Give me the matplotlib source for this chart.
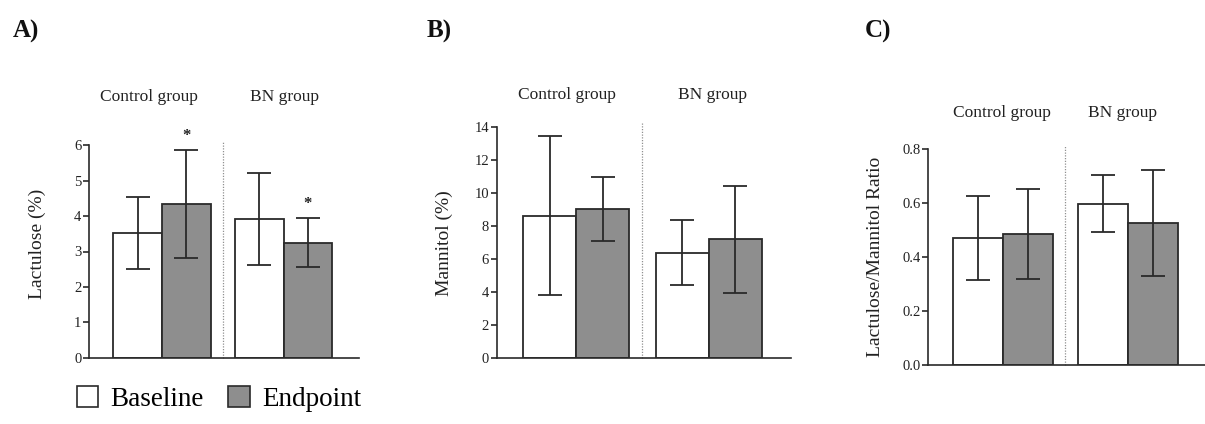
import matplotlib
matplotlib.use("Agg")
import matplotlib.pyplot as plt
from matplotlib.patches import Patch

plt.rcParams['font.family'] = ['Liberation Serif', 'DejaVu Serif']

# ---- data ----
groups = ["Control group", "BN group"]
series = ["Baseline", "Endpoint"]

lactulose_mean = [3.52, 4.35, 3.92, 3.25]
lactulose_sd = [1.01, 1.53, 1.31, 0.70]
lactulose_sig = [False, True, False, True]

mannitol_mean = [8.63, 9.04, 6.38, 7.19]
mannitol_sd = [4.83, 1.96, 1.96, 3.24]
mannitol_sig = [False, False, False, False]

ratio_mean = [0.470, 0.485, 0.598, 0.527]
ratio_sd = [0.156, 0.168, 0.104, 0.197]
ratio_sig = [False, False, False, False]

lac_ticks = [0, 1, 2, 3, 4, 5, 6]
man_ticks = [0, 2, 4, 6, 8, 10, 12, 14]
rat_ticks = [0.0, 0.2, 0.4, 0.6, 0.8]

# ---- layout / style ----
W, H = 1205, 424
fig = plt.figure(figsize=(W / 100, H / 100), dpi=100)

xpos = [1.0, 2.0, 3.5, 4.5]
divider_x = 2.75
colors = ["white", "#8e8e8e"]
dark = "#2a2a2a"

panels = [
    dict(rect=(89, 145.3, 359, 357.7), mean=lactulose_mean, sd=lactulose_sd, sig=lactulose_sig,
         ticks=lac_ticks, fmt="{:g}", ylabel="Lactulose (%)", ylab_xy=(37, 244),
         letter="A)", letter_xy=(13, 31), glab_x=[1.23, 4.02], glab_y=97, sig_off=0.38),
    dict(rect=(496.7, 127.3, 790.7, 357.7), mean=mannitol_mean, sd=mannitol_sd, sig=mannitol_sig,
         ticks=man_ticks, fmt="{:g}", ylabel="Mannitol (%)", ylab_xy=(444, 243),
         letter="B)", letter_xy=(427, 31), glab_x=[1.32, 4.08], glab_y=95, sig_off=0.8),
    dict(rect=(928.3, 149, 1205, 365), mean=ratio_mean, sd=ratio_sd, sig=ratio_sig,
         ticks=rat_ticks, fmt="{:.1f}", ylabel="Lactulose/Mannitol Ratio", ylab_xy=(876, 257),
         letter="C)", letter_xy=(865, 31), glab_x=[1.48, 3.90], glab_y=113, sig_off=0.05),
]

for p in panels:
    l, t, r, b = p["rect"]
    ax = fig.add_axes([l / W, 1 - b / H, (r - l) / W, (b - t) / H])
    ax.bar(xpos, p["mean"], width=1.0, color=[colors[0], colors[1]] * 2,
           edgecolor=dark, linewidth=1.3, zorder=2)
    ax.errorbar(xpos, p["mean"], yerr=p["sd"], fmt="none", ecolor=dark,
                elinewidth=1.3, capsize=8.5, capthick=1.3, zorder=3)
    for xi, m, s, sg in zip(xpos, p["mean"], p["sd"], p["sig"]):
        if sg:
            ax.text(xi, m + s + p["sig_off"], "*", ha="center", va="center",
                    fontsize=12, fontweight="bold", color="#222222", clip_on=False)
    ax.axvline(divider_x, ymin=0, ymax=1.02, color="#909090", linestyle=(0, (1, 1.2)),
               linewidth=0.9, zorder=1, clip_on=False)
    ax.set_xlim(0, 5.55)
    ax.set_ylim(p["ticks"][0], p["ticks"][-1])
    ax.set_yticks(p["ticks"])
    ax.set_yticklabels([p["fmt"].format(v) for v in p["ticks"]])
    ax.set_xticks([])
    for s in ["top", "right"]:
        ax.spines[s].set_visible(False)
    for s in ["left", "bottom"]:
        ax.spines[s].set_color(dark)
        ax.spines[s].set_linewidth(1.2)
    ax.tick_params(axis="y", direction="out", length=4, width=1.2, color=dark,
                   labelsize=10.5, labelcolor="#222222", pad=1.5)
    # group labels
    gy = (b - p["glab_y"]) / (b - t)
    for gx, g in zip(p["glab_x"], groups):
        ax.text(gx, gy, g, transform=ax.get_xaxis_transform(), ha="center", va="center",
                fontsize=12.5, color="#222222")
    fig.text(p["ylab_xy"][0] / W, 1 - p["ylab_xy"][1] / H, p["ylabel"], rotation=90,
             ha="center", va="center", fontsize=14, color="#222222")
    fig.text(p["letter_xy"][0] / W, 1 - p["letter_xy"][1] / H, p["letter"], ha="left",
             va="center", fontsize=18, fontweight="bold", color="#111111")

handles = [Patch(facecolor=colors[0], edgecolor=dark, linewidth=1.2, label=series[0]),
           Patch(facecolor=colors[1], edgecolor=dark, linewidth=1.2, label=series[1])]
fig.legend(handles=handles, loc="center", bbox_to_anchor=(219 / W, 1 - 399 / H), ncol=2,
           frameon=False, fontsize=19.5, handlelength=0.8, handleheight=0.8,
           handletextpad=0.45, columnspacing=0.9, borderpad=0, borderaxespad=0)

fig.savefig("out.png", dpi=100)
